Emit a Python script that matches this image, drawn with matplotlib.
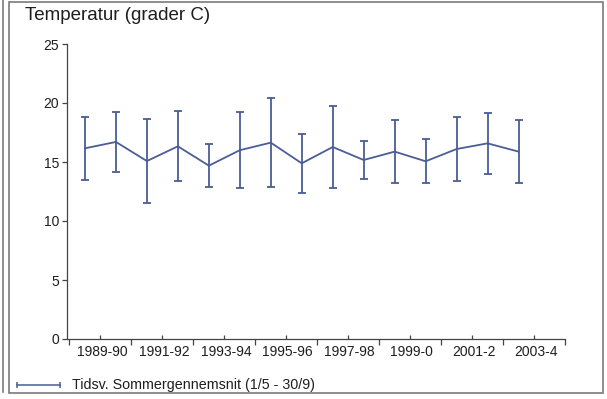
import numpy as np
import matplotlib
matplotlib.use('Agg')
import matplotlib.pyplot as plt
import matplotlib.transforms as mtransforms
from matplotlib.lines import Line2D
from matplotlib.patches import Rectangle

plt.rcParams['font.family'] = ['Liberation Sans', 'DejaVu Sans']

# Data
seasons = ['1989-90', '1990-91', '1991-92', '1992-93', '1993-94', '1994-95',
           '1995-96', '1996-97', '1997-98', '1998-99', '1999-00', '2000-01',
           '2001-02', '2002-03', '2003-04', '2004-05']
mean_temp = [16.16, 16.70, 15.08, 16.33, 14.69, 16.00, 16.64, 14.89,
             16.27, 15.17, 15.88, 15.06, 16.10, 16.58, 15.88]
sd_temp = [2.67, 2.51, 3.57, 2.98, 1.83, 3.22, 3.80, 2.48,
           3.47, 1.61, 2.69, 1.88, 2.71, 2.56, 2.67]
tick_labels = ['1989-90', '1991-92', '1993-94', '1995-96', '1997-98',
               '1999-0', '2001-2', '2003-4']
y_ticks = [0, 5, 10, 15, 20, 25]
title = 'Temperatur (grader C)'
legend_label = 'Tidsv. Sommergennemsnit (1/5 - 30/9)'

W, H = 607, 399
line_color = '#4a5d96'
axis_color = '#444444'
text_color = '#1e1e1e'

fig = plt.figure(figsize=(W / 100, H / 100), dpi=100)
fig.patch.set_facecolor('white')

# axes placement (pixels)
x0, x1, y_top, y_bot = 67, 565, 44, 339
ax = fig.add_axes([x0 / W, 1 - y_bot / H, (x1 - x0) / W, (y_bot - y_top) / H])

x = np.arange(len(mean_temp))
ax.errorbar(x, mean_temp, yerr=sd_temp, color=line_color, lw=1.3,
            elinewidth=1.3, capsize=3, capthick=1.3)

ax.set_xlim(-0.58, len(seasons) - 0.5)
ax.set_ylim(0, 25)
for s in ['top', 'right']:
    ax.spines[s].set_visible(False)
for s in ['left', 'bottom']:
    ax.spines[s].set_color(axis_color)
    ax.spines[s].set_linewidth(0.9)

ax.set_yticks(y_ticks)
ax.set_yticklabels([str(v) for v in y_ticks])
ax.tick_params(axis='y', direction='out', length=3.5, width=0.9,
               color=axis_color, labelsize=10, pad=2, labelcolor=text_color)

major = np.arange(-0.5, len(seasons), 2)
minor = np.arange(0.5, len(seasons), 2)
ax.set_xticks(major)
ax.set_xticklabels([''] * len(major))
ax.set_xticks(minor, minor=True)
ax.set_xticklabels(tick_labels, minor=True)
ax.tick_params(axis='x', which='major', direction='out', length=4, width=0.9,
               color=axis_color)
ax.tick_params(axis='x', which='minor', direction='in', length=3, width=0.9,
               color=axis_color, labelsize=10, pad=4, labelcolor=text_color)
shift = mtransforms.ScaledTranslation(1.5 / 100, 0, fig.dpi_scale_trans)
for lab in ax.get_xticklabels(minor=True):
    lab.set_transform(lab.get_transform() + shift)

# title
fig.text(25 / W, 1 - 15.5 / H, title, fontsize=13.5, ha='left', va='center',
         color=text_color)

# legend
ly = 1 - 385 / H
fig.add_artist(Line2D([17 / W, 60 / W], [ly, ly], color=line_color, lw=1.1,
                      marker='|', markersize=5, markeredgewidth=1.1))
fig.text(72 / W, ly, legend_label, fontsize=10.3, ha='left', va='center',
         color=text_color)

# frame
fig.add_artist(Rectangle((9 / W, 1 - 393 / H), (603 - 9) / W, (393 - 2) / H,
                         transform=fig.transFigure, fill=False,
                         edgecolor='#7a7a7a', lw=1.2))
fig.add_artist(Line2D([2.5 / W, 2.5 / W], [1 - 392 / H, 1], color='#7a7a7a',
                      lw=1.2))

fig.savefig('out.png', dpi=100)
